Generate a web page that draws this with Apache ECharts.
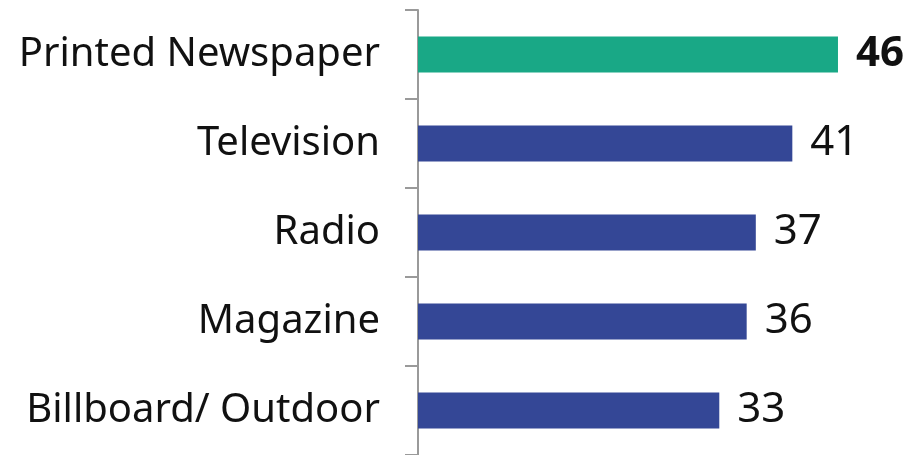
<!DOCTYPE html>
<html>
<head>
<meta charset="utf-8">
<script src="https://cdn.jsdelivr.net/npm/echarts@6/dist/echarts.min.js"></script>
<style>html,body{margin:0;padding:0;background:#fff;}#c{width:910px;height:455px;}</style>
</head>
<body>
<div id="c"></div>
<script>
var categories = ['Printed Newspaper', 'Television', 'Radio', 'Magazine', 'Billboard/ Outdoor'];
var values = [46, 41, 37, 36, 33];
var highlightIndex = 0;

var chart = echarts.init(document.getElementById('c'), null, {renderer: 'canvas'});
var FONT = 'Noto Sans';
chart.setOption({
  animation: false,
  grid: {left: 418, top: 10, width: 456.5, height: 447, containLabel: false},
  xAxis: {type: 'value', min: 0, max: 50, show: false},
  yAxis: {
    type: 'category', inverse: true, data: categories,
    axisLine: {show: true, lineStyle: {color: '#9a9a9a', width: 2}},
    axisTick: {show: true, length: 13, lineStyle: {color: '#9a9a9a', width: 2}},
    axisLabel: {color: '#111', fontFamily: FONT, fontSize: 40, margin: 38}
  },
  series: [{
    type: 'bar', barWidth: 36,
    data: values.map(function (v, i) {
      return {
        value: v,
        itemStyle: {color: i === highlightIndex ? '#19a886' : '#344796'},
        label: {fontWeight: i === highlightIndex ? 'bold' : 'normal'}
      };
    }),
    label: {show: true, position: 'right', distance: 18, color: '#111', fontFamily: FONT, fontSize: 42}
  }]
});
</script>
</body>
</html>
